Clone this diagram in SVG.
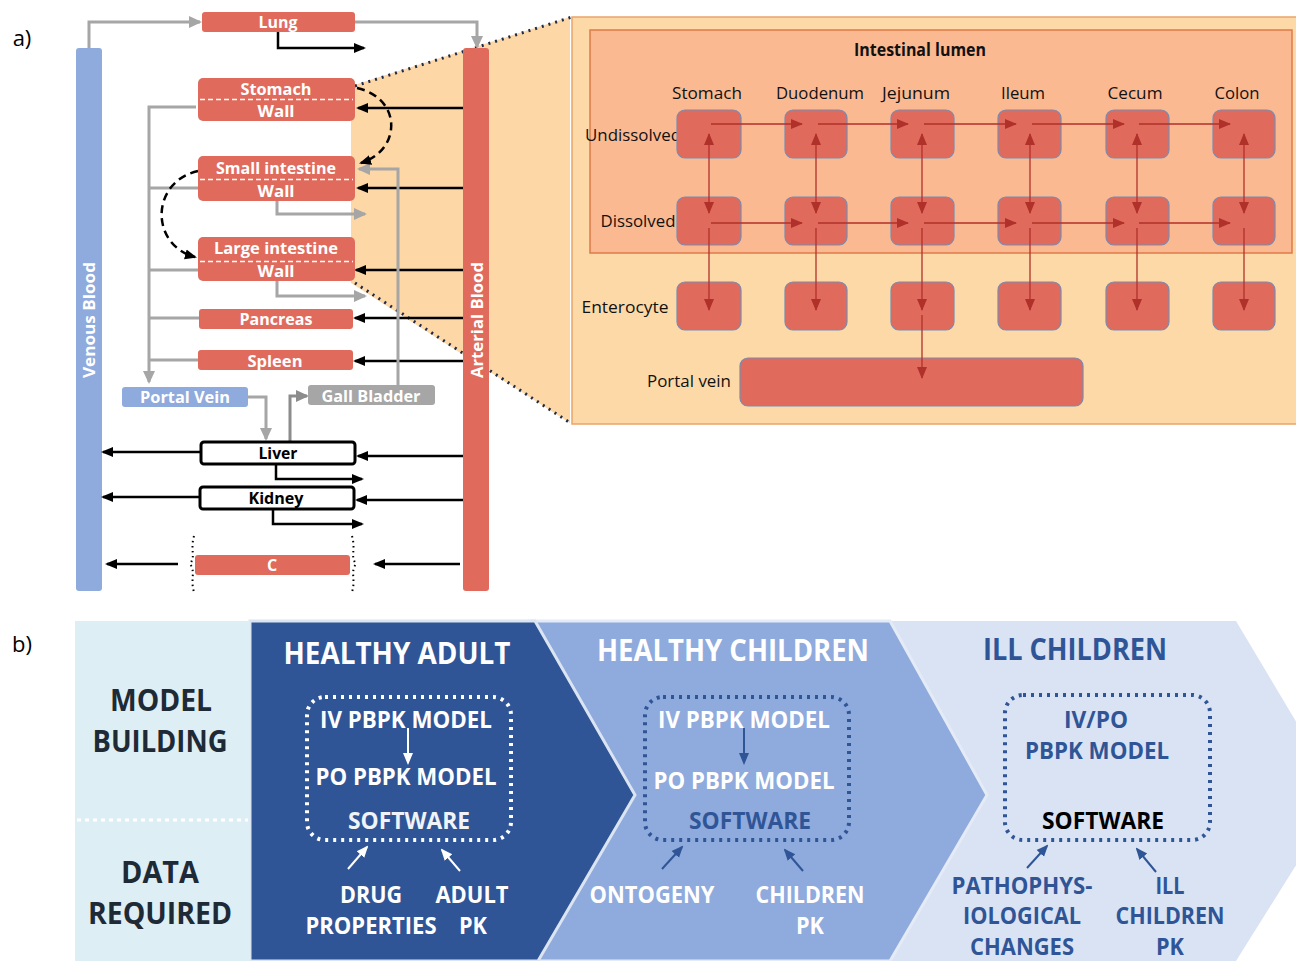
<svg xmlns="http://www.w3.org/2000/svg" width="1296" height="961" viewBox="0 0 1296 961">
<style>
text{font-family:"Open Sans","Noto Sans","Liberation Sans",sans-serif;font-weight:bold;text-anchor:middle;dominant-baseline:central}
.org{fill:#e06b5d}
.ot{fill:#fff;font-size:16px}
.blk{stroke:#000;stroke-width:2.5;fill:none;marker-end:url(#ab)}
.gry{stroke:#a6a6a6;stroke-width:3;fill:none}
.ga{marker-end:url(#ag)}
.dash{stroke:#000;stroke-width:2.5;fill:none;stroke-dasharray:8 5;marker-end:url(#ab)}
.cell{fill:#e06b5d;stroke:#7a8bb0;stroke-width:1.2}
.rl{font-weight:normal;font-size:17px;fill:#111}
.rar{stroke:#b0302a;stroke-width:1.3;fill:none;marker-end:url(#ar)}
.rab{stroke:#b0302a;stroke-width:1.3;fill:none;marker-end:url(#ar);marker-start:url(#ars)}
.big{font-size:30px}
.mid{font-size:23px}
</style>
<defs>
<marker id="ab" markerUnits="userSpaceOnUse" markerWidth="12" markerHeight="12" refX="10" refY="6" orient="auto"><path d="M0,1 L12,6 L0,11 z" fill="#000"/></marker>
<marker id="ag" markerUnits="userSpaceOnUse" markerWidth="14" markerHeight="14" refX="11" refY="7" orient="auto"><path d="M0,1 L13,7 L0,13 z" fill="#a6a6a6"/></marker>
<marker id="ag2" markerUnits="userSpaceOnUse" markerWidth="14" markerHeight="14" refX="11" refY="7" orient="auto"><path d="M0,1 L13,7 L0,13 z" fill="#8c8c8c"/></marker>
<marker id="ar" markerUnits="userSpaceOnUse" markerWidth="12" markerHeight="12" refX="11" refY="6" orient="auto"><path d="M0,1 L12,6 L0,11 z" fill="#b0302a"/></marker>
<marker id="ars" markerUnits="userSpaceOnUse" markerWidth="12" markerHeight="12" refX="1" refY="6" orient="auto"><path d="M12,1 L0,6 L12,11 z" fill="#b0302a"/></marker>
<marker id="aw" markerUnits="userSpaceOnUse" markerWidth="12" markerHeight="12" refX="10" refY="6" orient="auto"><path d="M0,1 L12,6 L0,11 z" fill="#fff"/></marker>
<marker id="ad" markerUnits="userSpaceOnUse" markerWidth="12" markerHeight="12" refX="10" refY="6" orient="auto"><path d="M0,1 L12,6 L0,11 z" fill="#2f5597"/></marker>
</defs>
<rect width="1296" height="961" fill="#fff"/>

<!-- Panel a -->
<text x="22" y="37" style="font-weight:normal;font-size:22px;fill:#000">a)</text>

<g id="zoom-region">
<polygon points="351,86 570,17 570,423 351,283" fill="#fdd7a5"/>
<line x1="355" y1="86" x2="572" y2="17" stroke="#1f2a44" stroke-width="3" stroke-dasharray="2 5"/>
<line x1="355" y1="283" x2="572" y2="424" stroke="#1f2a44" stroke-width="3" stroke-dasharray="2 5"/>
</g>

<g id="venous-blood"><rect x="76" y="48" width="26" height="543" rx="3" fill="#8faadc"/><text transform="translate(89,320) rotate(-90)" class="ot" textLength="116" lengthAdjust="spacingAndGlyphs">Venous Blood</text></g>
<g id="arterial-blood"><rect x="463" y="48" width="26" height="543" rx="3" fill="#e06b5d"/><text transform="translate(477,320) rotate(-90)" class="ot" textLength="116" lengthAdjust="spacingAndGlyphs">Arterial Blood</text></g>

<g id="connectors">
<path class="gry ga" d="M89,48 V22 H200"/>
<path class="gry ga" d="M355,22 H477 V47"/>
<path class="blk" d="M278,32 V48 H364"/>
<path class="blk" d="M463,108 H358"/>
<path class="blk" d="M463,188 H358"/>
<path class="blk" d="M463,270 H356"/>
<path class="blk" d="M463,318 H355"/>
<path class="blk" d="M463,361 H355"/>
<path class="blk" d="M463,456 H358"/>
<path class="blk" d="M463,500 H357"/>
<path class="blk" d="M460,564 H375"/>
<path class="blk" d="M200,452 H103"/>
<path class="blk" d="M199,497 H103"/>
<path class="blk" d="M178,564 H107"/>
<path class="blk" d="M276,464 V479 H362"/>
<path class="blk" d="M273,509 V524 H362"/>
<path class="gry ga" d="M196,107 H149 V382"/>
<path class="gry" d="M198,188 H149"/>
<path class="gry" d="M198,270 H149"/>
<path class="gry" d="M199,318 H149"/>
<path class="gry" d="M198,360 H149"/>
<path class="gry ga" d="M277,201 V214 H365"/>
<path class="gry ga" d="M277,281 V296 H365"/>
<path class="gry ga" d="M398,385 V169 H359"/>
<path class="gry ga" d="M248,397 H266 V439"/>
<path d="M290,441 V396 H307" stroke="#8c8c8c" stroke-width="3" fill="none" marker-end="url(#ag2)"/>
<path class="dash" d="M357,88 C402,98 402,150 361,163"/>
<path class="dash" d="M198,171 C150,182 150,245 195,257"/>
<path d="M194,536 C190,550 196,556 190,564 C196,572 190,580 194,592" stroke="#000" stroke-width="2" stroke-dasharray="1.5 3.5" fill="none"/>
<path d="M352,536 C356,550 350,556 356,564 C350,572 356,580 352,592" stroke="#000" stroke-width="2" stroke-dasharray="1.5 3.5" fill="none"/>
</g>

<g id="lung"><rect x="202" y="12" width="153" height="20" rx="3" class="org"/><text x="278" y="22" class="ot" textLength="39" lengthAdjust="spacingAndGlyphs">Lung</text></g>
<g id="stomach"><rect x="198" y="78" width="157" height="43" rx="5" class="org"/><line x1="200" y1="99.5" x2="353" y2="99.5" stroke="#fff" stroke-width="1.5" stroke-dasharray="5 3"/><text x="276" y="89" class="ot" textLength="71" lengthAdjust="spacingAndGlyphs">Stomach</text><text x="276" y="111" class="ot" textLength="37" lengthAdjust="spacingAndGlyphs">Wall</text></g>
<g id="small-intestine"><rect x="198" y="156" width="157" height="45" rx="5" class="org"/><line x1="200" y1="179.5" x2="353" y2="179.5" stroke="#fff" stroke-width="1.5" stroke-dasharray="5 3"/><text x="276" y="168" class="ot" textLength="120" lengthAdjust="spacingAndGlyphs">Small intestine</text><text x="276" y="191" class="ot" textLength="37" lengthAdjust="spacingAndGlyphs">Wall</text></g>
<g id="large-intestine"><rect x="198" y="237" width="157" height="44" rx="5" class="org"/><line x1="200" y1="261.5" x2="353" y2="261.5" stroke="#fff" stroke-width="1.5" stroke-dasharray="5 3"/><text x="276" y="248" class="ot" textLength="124" lengthAdjust="spacingAndGlyphs">Large intestine</text><text x="276" y="271" class="ot" textLength="37" lengthAdjust="spacingAndGlyphs">Wall</text></g>
<g id="pancreas"><rect x="199" y="309" width="154" height="20" rx="3" class="org"/><text x="276" y="319" class="ot" textLength="73" lengthAdjust="spacingAndGlyphs">Pancreas</text></g>
<g id="spleen"><rect x="198" y="350" width="155" height="20" rx="3" class="org"/><text x="275" y="361" class="ot" textLength="55" lengthAdjust="spacingAndGlyphs">Spleen</text></g>
<g id="portal-vein"><rect x="122" y="387" width="126" height="20" rx="3" fill="#8faadc"/><text x="185" y="397" class="ot" textLength="90" lengthAdjust="spacingAndGlyphs">Portal Vein</text></g>
<g id="gall-bladder"><rect x="308" y="385" width="127" height="20" rx="3" fill="#a6a6a6"/><text x="371" y="396" class="ot" textLength="99" lengthAdjust="spacingAndGlyphs">Gall Bladder</text></g>
<g id="liver"><rect x="201" y="442" width="154" height="22" rx="3" fill="#fff" stroke="#000" stroke-width="3"/><text x="278" y="453" style="font-size:16px;fill:#000" textLength="39" lengthAdjust="spacingAndGlyphs">Liver</text></g>
<g id="kidney"><rect x="200" y="487" width="154" height="22" rx="3" fill="#fff" stroke="#000" stroke-width="3"/><text x="276" y="498" style="font-size:16px;fill:#000" textLength="55" lengthAdjust="spacingAndGlyphs">Kidney</text></g>
<g id="c"><rect x="195" y="555" width="155" height="20" rx="3" class="org"/><text x="272" y="565" class="ot">C</text></g>

<g id="intestine-panel">
<rect x="572" y="17" width="730" height="407" fill="#fdd9a8" stroke="#e9a46a" stroke-width="1.5"/>
<rect x="590" y="30" width="702" height="223" fill="#fbb992" stroke="#e07a48" stroke-width="1.5"/>
<text x="920" y="49" style="font-size:17px;fill:#111" textLength="132" lengthAdjust="spacingAndGlyphs">Intestinal lumen</text>
<text x="707" y="92" class="rl" textLength="70" lengthAdjust="spacingAndGlyphs">Stomach</text>
<text x="820" y="92" class="rl" textLength="88" lengthAdjust="spacingAndGlyphs">Duodenum</text>
<text x="916" y="92" class="rl" textLength="68" lengthAdjust="spacingAndGlyphs">Jejunum</text>
<text x="1023" y="92" class="rl" textLength="44" lengthAdjust="spacingAndGlyphs">Ileum</text>
<text x="1135" y="92" class="rl" textLength="55" lengthAdjust="spacingAndGlyphs">Cecum</text>
<text x="1237" y="92" class="rl" textLength="45" lengthAdjust="spacingAndGlyphs">Colon</text>
<text x="633" y="134" class="rl" textLength="96" lengthAdjust="spacingAndGlyphs">Undissolved</text>
<text x="638" y="220" class="rl" textLength="75" lengthAdjust="spacingAndGlyphs">Dissolved</text>
<text x="625" y="306" class="rl" textLength="87" lengthAdjust="spacingAndGlyphs">Enterocyte</text>
<text x="689" y="380" class="rl" textLength="84" lengthAdjust="spacingAndGlyphs">Portal vein</text>
</g>
<g id="cells">
<rect x="677" y="110" width="64" height="48" rx="8" class="cell"/><rect x="785" y="110" width="62" height="48" rx="8" class="cell"/><rect x="891" y="110" width="63" height="48" rx="8" class="cell"/><rect x="998" y="110" width="63" height="48" rx="8" class="cell"/><rect x="1106" y="110" width="63" height="48" rx="8" class="cell"/><rect x="1213" y="110" width="62" height="48" rx="8" class="cell"/>
<rect x="677" y="197" width="64" height="48" rx="8" class="cell"/><rect x="785" y="197" width="62" height="48" rx="8" class="cell"/><rect x="891" y="197" width="63" height="48" rx="8" class="cell"/><rect x="998" y="197" width="63" height="48" rx="8" class="cell"/><rect x="1106" y="197" width="63" height="48" rx="8" class="cell"/><rect x="1213" y="197" width="62" height="48" rx="8" class="cell"/>
<rect x="677" y="282" width="64" height="48" rx="8" class="cell"/><rect x="785" y="282" width="62" height="48" rx="8" class="cell"/><rect x="891" y="282" width="63" height="48" rx="8" class="cell"/><rect x="998" y="282" width="63" height="48" rx="8" class="cell"/><rect x="1106" y="282" width="63" height="48" rx="8" class="cell"/><rect x="1213" y="282" width="62" height="48" rx="8" class="cell"/>
<rect x="740" y="358" width="343" height="48" rx="8" class="cell"/>
</g>
<g id="intestine-arrows">
<path class="rar" d="M711,124 H802"/><path class="rar" d="M818,124 H908"/><path class="rar" d="M924,124 H1016"/><path class="rar" d="M1032,124 H1124"/><path class="rar" d="M1139,124 H1230"/>
<path class="rar" d="M711,223 H802"/><path class="rar" d="M818,223 H908"/><path class="rar" d="M924,223 H1016"/><path class="rar" d="M1032,223 H1124"/><path class="rar" d="M1139,223 H1230"/>
<path class="rab" d="M709,134 V213"/><path class="rab" d="M816,134 V213"/><path class="rab" d="M922,134 V213"/><path class="rab" d="M1030,134 V213"/><path class="rab" d="M1137,134 V213"/><path class="rab" d="M1244,134 V213"/>
<path class="rar" d="M709,228 V310"/><path class="rar" d="M816,228 V310"/><path class="rar" d="M922,228 V310"/><path class="rar" d="M1030,228 V310"/><path class="rar" d="M1137,228 V310"/><path class="rar" d="M1244,228 V310"/>
<path class="rar" d="M922,315 V378"/>
</g>

<!-- Panel b -->
<text x="22" y="643" style="font-weight:normal;font-size:22px;fill:#000">b)</text>
<g id="stage-ill-children"><polygon points="880,621 1236,621 1340,795 1236,961 880,961" fill="#dae3f3"/></g>
<g id="stage-healthy-children"><polygon points="530,621 890,621 987,795 890,961 530,961" fill="#8faadc" stroke="#e4ebf6" stroke-width="3"/></g>
<g id="stage-healthy-adult"><polygon points="250,621 535,621 635,795 538,961 250,961" fill="#2f5597" stroke="#dbe5f1" stroke-width="3"/></g>
<g id="row-labels">
<rect x="75" y="621" width="175" height="340" fill="#deeef5"/>
<line x1="77" y1="820" x2="248" y2="820" stroke="#fff" stroke-width="3" stroke-dasharray="4 4"/>
<text x="161" y="699" class="big" fill="#1e2a36" textLength="102" lengthAdjust="spacingAndGlyphs">MODEL</text>
<text x="160" y="740" class="big" fill="#1e2a36" textLength="135" lengthAdjust="spacingAndGlyphs">BUILDING</text>
<text x="160" y="871" class="big" fill="#1e2a36" textLength="78" lengthAdjust="spacingAndGlyphs">DATA</text>
<text x="160" y="912" class="big" fill="#1e2a36" textLength="144" lengthAdjust="spacingAndGlyphs">REQUIRED</text>
</g>
<g id="healthy-adult">
<text x="397" y="652" class="big" fill="#fff" textLength="227" lengthAdjust="spacingAndGlyphs">HEALTHY ADULT</text>
<rect x="307" y="697" width="204" height="143" rx="18" fill="none" stroke="#fff" stroke-width="4" stroke-dasharray="3 5"/>
<text x="406" y="719" class="mid" fill="#fff" textLength="172" lengthAdjust="spacingAndGlyphs">IV PBPK MODEL</text>
<path d="M408,728 V763" stroke="#fff" stroke-width="2" marker-end="url(#aw)"/>
<text x="406" y="776" class="mid" fill="#fff" textLength="181" lengthAdjust="spacingAndGlyphs">PO PBPK MODEL</text>
<text x="409" y="820" class="mid" fill="#f0f3f8" textLength="122" lengthAdjust="spacingAndGlyphs">SOFTWARE</text>
<path d="M348,869 L367,847" stroke="#fff" stroke-width="2" marker-end="url(#aw)"/>
<path d="M460,871 L442,850" stroke="#fff" stroke-width="2" marker-end="url(#aw)"/>
<text x="371" y="894" class="mid" fill="#fff" textLength="62" lengthAdjust="spacingAndGlyphs">DRUG</text>
<text x="472" y="894" class="mid" fill="#fff" textLength="73" lengthAdjust="spacingAndGlyphs">ADULT</text>
<text x="371" y="925" class="mid" fill="#fff" textLength="131" lengthAdjust="spacingAndGlyphs">PROPERTIES</text>
<text x="473" y="925" class="mid" fill="#fff" textLength="28" lengthAdjust="spacingAndGlyphs">PK</text>
</g>
<g id="healthy-children">
<text x="733" y="649" class="big" fill="#fff" textLength="272" lengthAdjust="spacingAndGlyphs">HEALTHY CHILDREN</text>
<rect x="645" y="697" width="204" height="143" rx="18" fill="none" stroke="#2f5597" stroke-width="4" stroke-dasharray="3 5"/>
<text x="744" y="719" class="mid" fill="#fff" textLength="172" lengthAdjust="spacingAndGlyphs">IV PBPK MODEL</text>
<path d="M744,728 V763" stroke="#2f5597" stroke-width="2" marker-end="url(#ad)"/>
<text x="744" y="780" class="mid" fill="#fff" textLength="181" lengthAdjust="spacingAndGlyphs">PO PBPK MODEL</text>
<text x="750" y="820" class="mid" fill="#2f5597" textLength="122" lengthAdjust="spacingAndGlyphs">SOFTWARE</text>
<path d="M662,869 L682,847" stroke="#2f5597" stroke-width="2" marker-end="url(#ad)"/>
<path d="M803,871 L785,850" stroke="#2f5597" stroke-width="2" marker-end="url(#ad)"/>
<text x="652" y="894" class="mid" fill="#fff" textLength="125" lengthAdjust="spacingAndGlyphs">ONTOGENY</text>
<text x="810" y="894" class="mid" fill="#fff" textLength="109" lengthAdjust="spacingAndGlyphs">CHILDREN</text>
<text x="810" y="925" class="mid" fill="#fff" textLength="28" lengthAdjust="spacingAndGlyphs">PK</text>
</g>
<g id="ill-children">
<text x="1075" y="648" class="big" fill="#2f5597" textLength="184" lengthAdjust="spacingAndGlyphs">ILL CHILDREN</text>
<rect x="1005" y="695" width="205" height="145" rx="18" fill="none" stroke="#2f5597" stroke-width="4" stroke-dasharray="3 5"/>
<text x="1096" y="719" class="mid" fill="#2f5597" textLength="64" lengthAdjust="spacingAndGlyphs">IV/PO</text>
<text x="1097" y="750" class="mid" fill="#2f5597" textLength="144" lengthAdjust="spacingAndGlyphs">PBPK MODEL</text>
<text x="1103" y="820" class="mid" fill="#000" textLength="122" lengthAdjust="spacingAndGlyphs">SOFTWARE</text>
<path d="M1027,868 L1047,846" stroke="#2f5597" stroke-width="2" marker-end="url(#ad)"/>
<path d="M1156,872 L1137,849" stroke="#2f5597" stroke-width="2" marker-end="url(#ad)"/>
<text x="1022" y="885" class="mid" fill="#2f5597" textLength="141" lengthAdjust="spacingAndGlyphs">PATHOPHYS-</text>
<text x="1022" y="915" class="mid" fill="#2f5597" textLength="118" lengthAdjust="spacingAndGlyphs">IOLOGICAL</text>
<text x="1022" y="946" class="mid" fill="#2f5597" textLength="104" lengthAdjust="spacingAndGlyphs">CHANGES</text>
<text x="1170" y="885" class="mid" fill="#2f5597" textLength="29" lengthAdjust="spacingAndGlyphs">ILL</text>
<text x="1170" y="915" class="mid" fill="#2f5597" textLength="109" lengthAdjust="spacingAndGlyphs">CHILDREN</text>
<text x="1170" y="946" class="mid" fill="#2f5597" textLength="28" lengthAdjust="spacingAndGlyphs">PK</text>
</g>
</svg>
